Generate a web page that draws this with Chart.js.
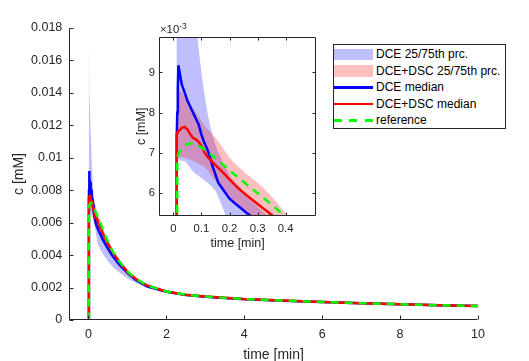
<!DOCTYPE html>
<html>
<head>
<meta charset="utf-8">
<script src="https://cdn.jsdelivr.net/npm/chart.js@4/dist/chart.umd.min.js"></script>
<style>
  body { margin: 0; background: #fff; }
  #wrap { position: relative; width: 529px; height: 361px; background: #fff; overflow: hidden; }
  #mainChart { position: absolute; left: 0; top: 0; }
  #insetChart { position: absolute; left: 118px; top: 18px; }
  #legend {
    position: absolute; left: 333px; top: 44px; width: 171px; height: 82px;
    border: 1px solid #262626; background: #fff; padding-top: 1px;
    font-family: "Liberation Sans", Arial, sans-serif; font-size: 12px; color: #000;
  }
  .row { position: relative; height: 16.5px; line-height: 16.5px; padding-left: 42px; white-space: nowrap; }
  .sw { position: absolute; left: 0; width: 39px; }
  .patch { top: 2.5px; height: 11.5px; }
  .ln { top: 7px; height: 2.5px; }
</style>
</head>
<body>
<div id="wrap">
  <canvas id="mainChart" width="529" height="361"></canvas>
  <canvas id="insetChart" width="210" height="245"></canvas>
  <div id="legend">
    <div class="row"><span class="sw patch" style="background:rgba(0,0,255,0.25)"></span>DCE 25/75th prc.</div>
    <div class="row"><span class="sw patch" style="background:rgba(255,0,0,0.25)"></span>DCE+DSC 25/75th prc.</div>
    <div class="row"><span class="sw ln" style="background:#0000ff"></span>DCE median</div>
    <div class="row"><span class="sw ln" style="background:#ff0000"></span>DCE+DSC median</div>
    <div class="row"><span class="sw ln" style="background:repeating-linear-gradient(to right,#00ff00 0 8px,transparent 8px 15.5px)"></span>reference</div>
  </div>
</div>
<script>
// time [min]
var time = [0, 0.01, 0.012, 0.014, 0.016, 0.018, 0.025, 0.03, 0.04, 0.05, 0.06, 0.07, 0.08, 0.09, 0.1,
  0.11, 0.12, 0.13, 0.14, 0.15, 0.16, 0.18, 0.2, 0.22, 0.24, 0.26, 0.28, 0.3, 0.32, 0.34, 0.36, 0.38, 0.4,
  0.45, 0.5, 0.6, 0.7, 0.8, 1.0, 1.2, 1.5, 2, 2.5, 3, 4, 5, 6, 7, 8, 9, 10];

// concentrations, in units of 1e-3 mM
var dceHigh = [0, 0, 16.8, 16.4, 16.0, 15.6, 14.6, 14.0, 13.0, 12.2, 11.5, 10.9, 10.3, 9.6, 9.0,
  8.5, 8.05, 7.7, 7.42, 7.2, 7.0, 6.7, 6.45, 6.25, 6.07, 5.92, 5.78, 5.65, 5.52, 5.4, 5.28, 5.17, 5.06,
  4.84, 4.62, 4.2, 3.85, 3.55, 3.0, 2.58, 2.15, 1.78, 1.58, 1.47, 1.31, 1.22, 1.13, 1.06, 0.99, 0.93, 0.88];
var dceLow = [0, 0, 6.9, 6.88, 6.85, 6.83, 6.8, 6.8, 6.8, 6.72, 6.62, 6.53, 6.47, 6.42, 6.37,
  6.32, 6.26, 6.2, 6.13, 6.05, 5.9, 5.55, 5.2, 4.95, 4.75, 4.6, 4.48, 4.38, 4.28, 4.2, 4.1, 4.02, 3.95,
  3.8, 3.62, 3.35, 3.12, 2.92, 2.58, 2.3, 1.98, 1.68, 1.5, 1.39, 1.25, 1.16, 1.08, 1.01, 0.95, 0.89, 0.84];
var dscHigh = [0, 0, 8.5, 8.55, 8.55, 8.55, 8.52, 8.5, 8.4, 8.3, 8.2, 8.1, 8.0, 7.9, 7.78,
  7.68, 7.6, 7.52, 7.45, 7.38, 7.28, 7.08, 6.88, 6.72, 6.6, 6.47, 6.37, 6.25, 6.12, 5.98, 5.83, 5.66, 5.48,
  5.18, 4.9, 4.42, 4.03, 3.68, 3.07, 2.64, 2.19, 1.8, 1.59, 1.48, 1.31, 1.22, 1.13, 1.06, 0.99, 0.93, 0.88];
var dscLow = [0, 0, 6.85, 6.86, 6.87, 6.88, 6.9, 6.9, 6.88, 6.85, 6.82, 6.8, 6.76, 6.72, 6.69,
  6.65, 6.58, 6.48, 6.38, 6.3, 6.2, 6.03, 5.88, 5.75, 5.6, 5.47, 5.36, 5.26, 5.15, 5.05, 4.95, 4.86, 4.77,
  4.56, 4.35, 3.97, 3.65, 3.38, 2.85, 2.47, 2.06, 1.71, 1.53, 1.42, 1.27, 1.18, 1.09, 1.02, 0.95, 0.89, 0.84];
var dceMedian = [0, 0, 7.4, 8.0, 8.6, 9.18, 8.9, 8.7, 8.5, 8.3, 8.15, 8.0, 7.85, 7.7, 7.45,
  7.25, 7.1, 6.9, 6.65, 6.45, 6.25, 6.05, 5.85, 5.73, 5.62, 5.5, 5.4, 5.3, 5.2, 5.1, 5.0, 4.9, 4.82,
  4.6, 4.4, 4.0, 3.7, 3.4, 2.9, 2.5, 2.08, 1.74, 1.54, 1.43, 1.28, 1.19, 1.11, 1.04, 0.97, 0.91, 0.86];
var dscMedian = [0, 0, 7.45, 7.5, 7.52, 7.53, 7.58, 7.62, 7.64, 7.58, 7.46, 7.37, 7.33, 7.27, 7.16,
  7.02, 6.91, 6.83, 6.76, 6.69, 6.62, 6.48, 6.33, 6.19, 6.06, 5.94, 5.83, 5.72, 5.61, 5.5, 5.39, 5.29, 5.19,
  4.95, 4.72, 4.28, 3.9, 3.57, 2.97, 2.56, 2.13, 1.76, 1.56, 1.45, 1.29, 1.2, 1.11, 1.04, 0.97, 0.91, 0.86];
var reference = [0, 0, 0, 6.85, 6.92, 6.97, 7.05, 7.1, 7.17, 7.21, 7.23, 7.23, 7.2, 7.17, 7.13,
  7.08, 7.02, 6.97, 6.92, 6.86, 6.8, 6.68, 6.56, 6.44, 6.33, 6.21, 6.1, 5.99, 5.88, 5.76, 5.65, 5.52, 5.4,
  5.1, 4.82, 4.32, 3.93, 3.59, 2.99, 2.57, 2.13, 1.76, 1.56, 1.45, 1.29, 1.2, 1.11, 1.04, 0.97, 0.91, 0.86];

var mainXTicks = [0, 2, 4, 6, 8, 10];
var mainYTicks = [0, 0.002, 0.004, 0.006, 0.008, 0.01, 0.012, 0.014, 0.016, 0.018];
var insetXTicks = [0, 0.1, 0.2, 0.3, 0.4];
var insetYTicks = [6, 7, 8, 9];

var FONT = '"Liberation Sans", Arial, sans-serif';
var TXT = '#262626';

function pts(vals, k) {
  return time.map(function (t, i) { return {x: t, y: vals[i] * k}; });
}

function makeDatasets(k) {
  return [
    {data: pts(dceHigh, k), fill: 1, backgroundColor: 'rgba(0,0,255,0.25)', borderColor: 'rgba(0,0,0,0)', borderWidth: 0, order: 4},
    {data: pts(dceLow, k), fill: false, borderColor: 'rgba(0,0,0,0)', borderWidth: 0, order: 4},
    {data: pts(dscHigh, k), fill: 3, backgroundColor: 'rgba(255,0,0,0.25)', borderColor: 'rgba(0,0,0,0)', borderWidth: 0, order: 3},
    {data: pts(dscLow, k), fill: false, borderColor: 'rgba(0,0,0,0)', borderWidth: 0, order: 3},
    {data: pts(dceMedian, k), borderColor: '#0000ff', borderWidth: 2.5, order: 2},
    {data: pts(dscMedian, k), borderColor: '#ff0000', borderWidth: 2.5, order: 1},
    {data: pts(reference, k), borderColor: '#00ff00', borderWidth: 2.5, borderDash: [8, 6], order: 0}
  ];
}

// matlab style axes: inward ticks, optional box, optional exponent label
var matlabAxes = {
  id: 'matlabAxes',
  beforeDatasetsDraw: function (chart, args, opts) {
    if (!opts.background) return;
    var a = chart.chartArea, ctx = chart.ctx;
    ctx.save();
    ctx.fillStyle = '#fff';
    ctx.fillRect(a.left, a.top, a.right - a.left, a.bottom - a.top);
    ctx.restore();
  },
  afterDraw: function (chart, args, opts) {
    var ctx = chart.ctx, a = chart.chartArea;
    var xs = chart.scales.x, ys = chart.scales.y;
    var tl = opts.tickLen || 4;
    var L = Math.round(a.left) + 0.5, R = Math.round(a.right) - 0.5;
    var T = Math.round(a.top) + 0.5, B = Math.round(a.bottom) - 0.5;
    ctx.save();
    ctx.strokeStyle = TXT;
    ctx.lineWidth = 1;
    ctx.beginPath();
    ctx.moveTo(L, T); ctx.lineTo(L, B); ctx.lineTo(R, B);
    if (opts.box) { ctx.lineTo(R, T); ctx.lineTo(L, T); }
    xs.ticks.forEach(function (t) {
      var p = Math.round(xs.getPixelForValue(t.value)) + 0.5;
      ctx.moveTo(p, B); ctx.lineTo(p, B - tl);
      if (opts.box) { ctx.moveTo(p, T); ctx.lineTo(p, T + tl); }
    });
    ys.ticks.forEach(function (t) {
      var p = Math.round(ys.getPixelForValue(t.value)) + 0.5;
      ctx.moveTo(L, p); ctx.lineTo(L + tl, p);
      if (opts.box) { ctx.moveTo(R, p); ctx.lineTo(R - tl, p); }
    });
    ctx.stroke();
    if (opts.exponent) {
      ctx.fillStyle = TXT;
      ctx.textBaseline = 'alphabetic';
      ctx.font = '11.3px ' + FONT;
      ctx.fillText('\u00d710', a.left + 0.7, a.top - 3.4);
      var w = ctx.measureText('\u00d710').width;
      ctx.font = '8.5px ' + FONT;
      ctx.fillText('-3', a.left + 0.7 + w, a.top - 8);
    }
    ctx.restore();
  }
};

function fixedTicks(arr) {
  return function (scale) { scale.ticks = arr.map(function (v) { return {value: v}; }); };
}

new Chart(document.getElementById('mainChart'), {
  type: 'line',
  data: {datasets: makeDatasets(1e-3)},
  plugins: [matlabAxes],
  options: {
    responsive: false,
    animation: false,
    devicePixelRatio: 1,
    layout: {padding: {left: 0, top: 28, right: 51, bottom: 0}},
    elements: {point: {radius: 0}, line: {tension: 0}},
    plugins: {
      legend: {display: false},
      tooltip: {enabled: false},
      matlabAxes: {box: false, tickLen: 4}
    },
    scales: {
      x: {
        type: 'linear', min: -0.5, max: 10,
        afterBuildTicks: fixedTicks(mainXTicks),
        afterFit: function (s) { s.height = 41; },
        grid: {display: false, drawTicks: false},
        border: {display: false},
        ticks: {padding: 7.5, color: TXT, font: {family: FONT, size: 12.5}, maxRotation: 0,
          callback: function (v) { return String(v); }},
        title: {display: true, text: 'time [min]', color: TXT, font: {family: FONT, size: 14},
          padding: {top: 0, bottom: -2.4}}
      },
      y: {
        type: 'linear', min: 0, max: 0.018,
        afterBuildTicks: fixedTicks(mainYTicks),
        afterFit: function (s) { s.width = 69; },
        grid: {display: false, drawTicks: false},
        border: {display: false},
        ticks: {padding: 6.7, color: TXT, font: {family: FONT, size: 12.5},
          callback: function (v) { return String(Number(v.toFixed(3))); }},
        title: {display: true, text: 'c [mM]', color: TXT, font: {family: FONT, size: 14},
          padding: {top: 10.6, bottom: 0}}
      }
    }
  }
});

new Chart(document.getElementById('insetChart'), {
  type: 'line',
  data: {datasets: makeDatasets(1)},
  plugins: [matlabAxes],
  options: {
    responsive: false,
    animation: false,
    devicePixelRatio: 1,
    layout: {padding: {left: 0, top: 18.7, right: 12, bottom: 0}},
    elements: {point: {radius: 0}, line: {tension: 0}},
    plugins: {
      legend: {display: false},
      tooltip: {enabled: false},
      matlabAxes: {box: true, tickLen: 3, background: true, exponent: true}
    },
    scales: {
      x: {
        type: 'linear', min: -0.05, max: 0.508,
        afterBuildTicks: fixedTicks(insetXTicks),
        afterFit: function (s) { s.height = 47; },
        grid: {display: false, drawTicks: false},
        border: {display: false},
        ticks: {padding: 6.5, color: TXT, font: {family: FONT, size: 11.3}, maxRotation: 0,
          callback: function (v) { return String(v); }},
        title: {display: true, text: 'time [min]', color: TXT, font: {family: FONT, size: 12.5},
          padding: {top: 0, bottom: 12.2}}
      },
      y: {
        type: 'linear', min: 5.42, max: 9.89,
        afterBuildTicks: fixedTicks(insetYTicks),
        afterFit: function (s) { s.width = 41.3; },
        grid: {display: false, drawTicks: false},
        border: {display: false},
        ticks: {padding: 4.3, color: TXT, font: {family: FONT, size: 11.3},
          callback: function (v) { return String(v); }},
        title: {display: true, text: 'c [mM]', color: TXT, font: {family: FONT, size: 12.5},
          padding: {top: 16.2, bottom: 0}}
      }
    }
  }
});
</script>
</body>
</html>
